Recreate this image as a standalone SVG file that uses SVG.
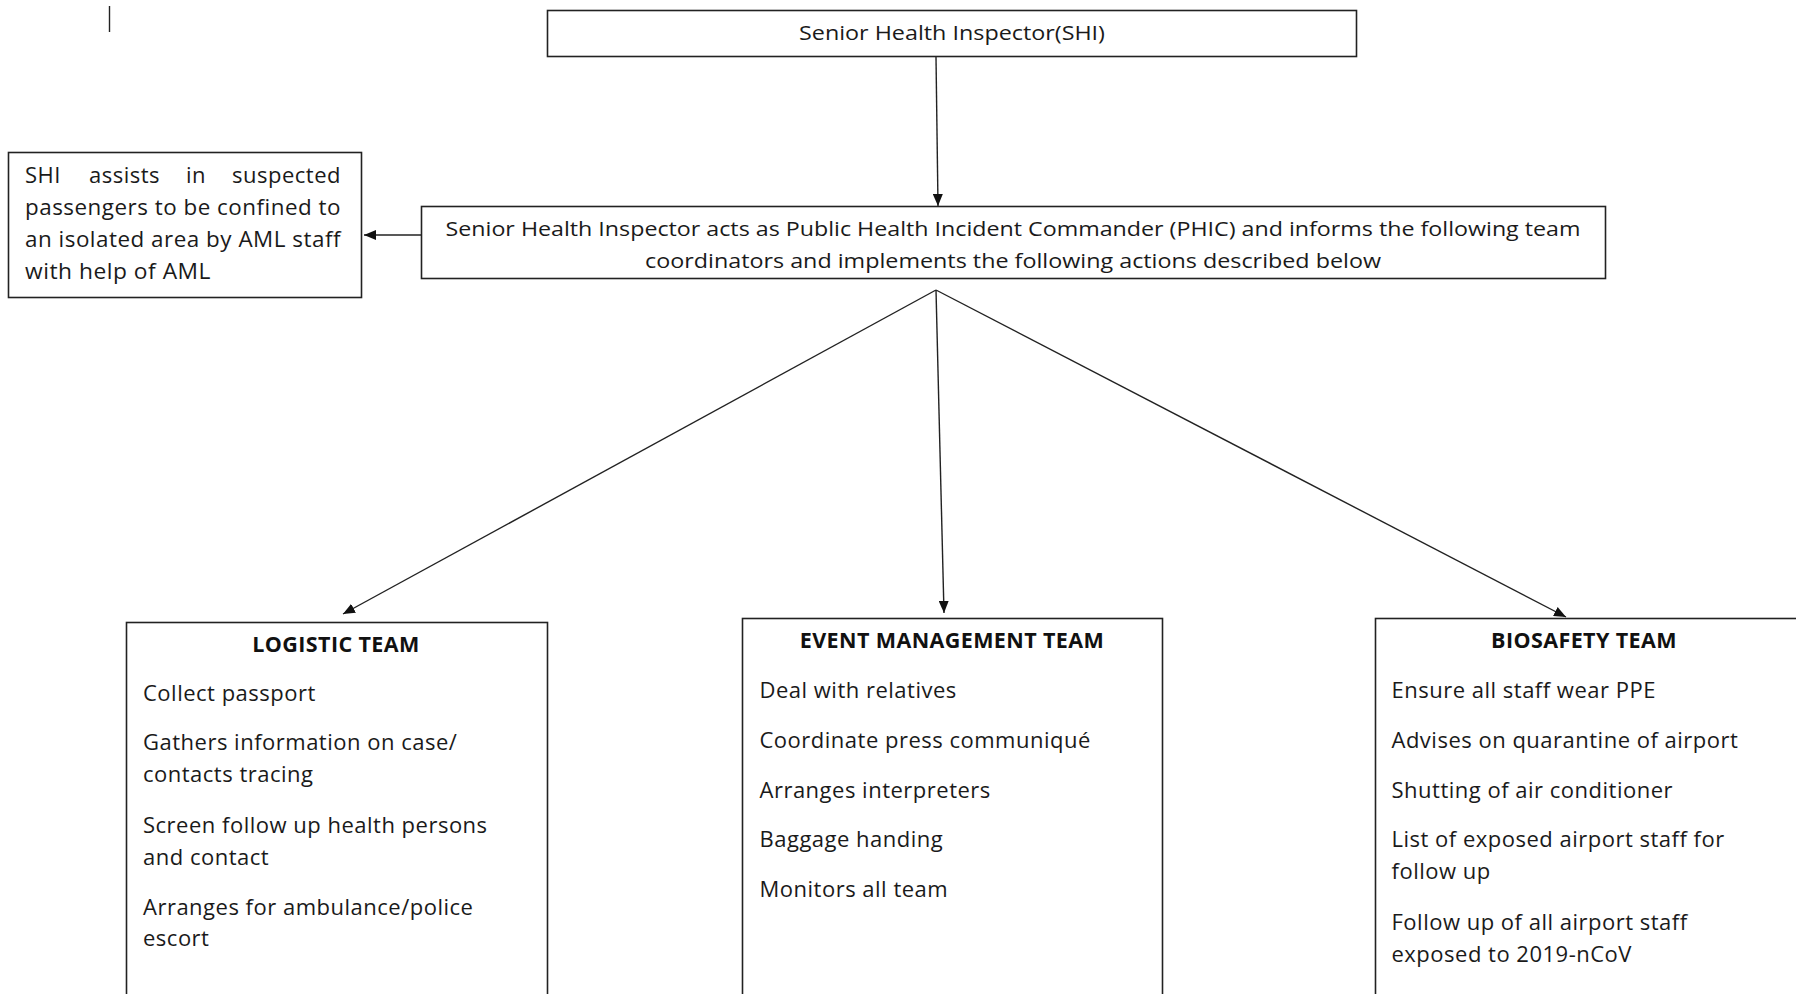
<svg xmlns="http://www.w3.org/2000/svg" width="1796" height="994" viewBox="0 0 1796 994">
<style>
.box{fill:#fff;stroke:#222;stroke-width:1.6}
.t{font-family:"Open Sans","Noto Sans",sans-serif;font-size:22px;letter-spacing:0.5px;fill:#1a1a1a}
.c{font-family:"Open Sans","Noto Sans",sans-serif;font-size:20px;fill:#1a1a1a}
.b{font-family:"Open Sans","Noto Sans",sans-serif;font-size:21.5px;font-weight:bold;letter-spacing:0.4px;fill:#111}
.ln{stroke:#222;stroke-width:1.4;fill:none}
</style>
<defs>
<marker id="ah" viewBox="0 0 12 10" refX="12" refY="5" markerWidth="12" markerHeight="10" markerUnits="userSpaceOnUse" orient="auto">
<path d="M0,0 L12,5 L0,10 Z" fill="#111"/>
</marker>
</defs>
<rect width="1796" height="994" fill="#fff"/>
<line x1="109.5" y1="6" x2="109.5" y2="32" stroke="#222" stroke-width="1.4"/>
<g id="connectors">
<line class="ln" x1="936" y1="57" x2="938" y2="206" marker-end="url(#ah)"/>
<line class="ln" x1="421" y1="235" x2="364" y2="235" marker-end="url(#ah)"/>
<line class="ln" x1="936" y1="290" x2="343" y2="614" marker-end="url(#ah)"/>
<line class="ln" x1="936" y1="290" x2="944" y2="613" marker-end="url(#ah)"/>
<line class="ln" x1="936" y1="290" x2="1566" y2="617" marker-end="url(#ah)"/>
</g>
<g id="shi">
<rect class="box" x="547.5" y="10.5" width="809" height="46"/>
<text class="c" x="952" y="40" text-anchor="middle" textLength="306" lengthAdjust="spacingAndGlyphs">Senior Health Inspector(SHI)</text>
</g>
<g id="phic">
<rect class="box" x="421.5" y="206.5" width="1184" height="72"/>
<text class="c" x="1013" y="236" text-anchor="middle" textLength="1135" lengthAdjust="spacingAndGlyphs">Senior Health Inspector acts as Public Health Incident Commander (PHIC) and informs the following team</text>
<text class="c" x="1013" y="268" text-anchor="middle" textLength="736" lengthAdjust="spacingAndGlyphs">coordinators and implements the following actions described below</text>
</g>
<g id="shi-assists">
<rect class="box" x="8.5" y="152.5" width="353" height="145"/>
<text class="t" y="183"><tspan x="25">SHI</tspan><tspan x="89">assists</tspan><tspan x="186">in</tspan><tspan x="341" text-anchor="end">suspected</tspan></text>
<text class="t" x="25" y="215" textLength="316" lengthAdjust="spacingAndGlyphs">passengers to be confined to</text>
<text class="t" x="25" y="247" textLength="316" lengthAdjust="spacingAndGlyphs">an isolated area by AML staff</text>
<text class="t" x="25" y="279" textLength="186" lengthAdjust="spacingAndGlyphs">with help of AML</text>
</g>
<g id="logistic">
<rect class="box" x="126.5" y="622.5" width="421" height="380"/>
<text class="b" x="336" y="652" text-anchor="middle">LOGISTIC TEAM</text>
<text class="t" x="143" y="701">Collect passport</text>
<text class="t" x="143" y="750">Gathers information on case/</text>
<text class="t" x="143" y="782">contacts tracing</text>
<text class="t" x="143" y="833">Screen follow up health persons</text>
<text class="t" x="143" y="865">and contact</text>
<text class="t" x="143" y="915">Arranges for ambulance/police</text>
<text class="t" x="143" y="946">escort</text>
</g>
<g id="event">
<rect class="box" x="742.5" y="618.5" width="420" height="384"/>
<text class="b" x="952" y="648" text-anchor="middle">EVENT MANAGEMENT TEAM</text>
<text class="t" x="759.5" y="698">Deal with relatives</text>
<text class="t" x="759.5" y="748">Coordinate press communiqué</text>
<text class="t" x="759.5" y="798">Arranges interpreters</text>
<text class="t" x="759.5" y="847">Baggage handing</text>
<text class="t" x="759.5" y="897">Monitors all team</text>
</g>
<g id="biosafety">
<rect class="box" x="1375.5" y="618.5" width="430" height="384"/>
<text class="b" x="1584" y="648" text-anchor="middle">BIOSAFETY TEAM</text>
<text class="t" x="1391.5" y="698">Ensure all staff wear PPE</text>
<text class="t" x="1391.5" y="748">Advises on quarantine of airport</text>
<text class="t" x="1391.5" y="798">Shutting of air conditioner</text>
<text class="t" x="1391.5" y="847">List of exposed airport staff for</text>
<text class="t" x="1391.5" y="879">follow up</text>
<text class="t" x="1391.5" y="930">Follow up of all airport staff</text>
<text class="t" x="1391.5" y="962">exposed to 2019-nCoV</text>
</g>
</svg>
